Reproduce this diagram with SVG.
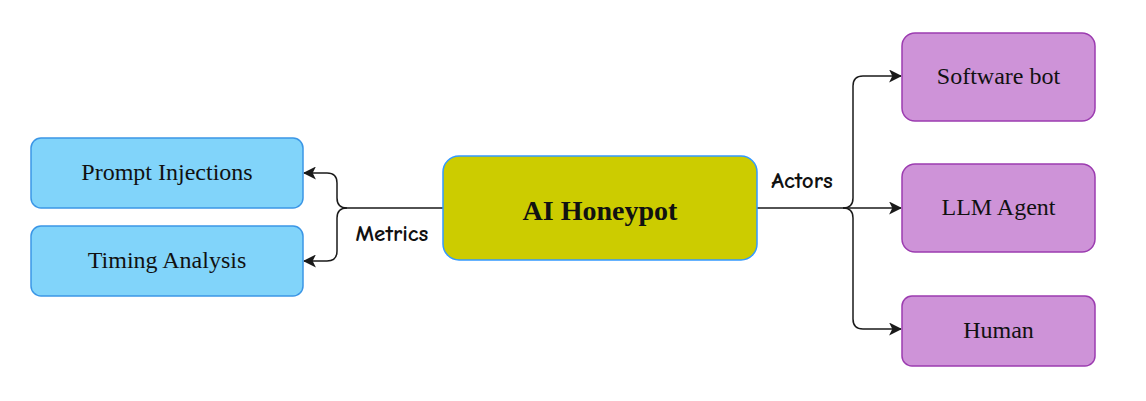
<svg xmlns="http://www.w3.org/2000/svg" width="1146" height="401" viewBox="0 0 1146 401">
<style>
.blue{fill:#81D4FA;stroke:#3B96E6;stroke-width:1.5}
.main{fill:#CCCC00;stroke:#3399FF;stroke-width:1.5}
.purple{fill:#CE93D8;stroke:#9C3CB0;stroke-width:1.5}
.t{font-family:"Liberation Serif","Times New Roman",serif;font-size:24px;fill:#111;text-anchor:middle;dominant-baseline:central}
.tb{font-family:"Liberation Serif","Times New Roman",serif;font-size:28px;font-weight:bold;fill:#111;text-anchor:middle;dominant-baseline:central}
.lbl{font-family:"Comic Sans MS","Comic Neue",cursive;font-size:23px;font-weight:bold;fill:#111;text-anchor:middle;dominant-baseline:central}
.e{fill:none;stroke:#1a1a1a;stroke-width:1.5}
</style>
<defs>
<marker id="arr" viewBox="0 0 12 12" refX="11" refY="6" markerWidth="13" markerHeight="13" markerUnits="userSpaceOnUse" orient="auto">
<path d="M0,0 L12,6 L0,12 L3,6 Z" fill="#1a1a1a"/>
</marker>
</defs>
<g id="connectors">
<path class="e" d="M443,208 H347 Q337,208 337,198 V183 Q337,173 327,173 H304" marker-end="url(#arr)"/>
<path class="e" d="M347,208 Q337,208 337,218 V251 Q337,261 327,261 H304" marker-end="url(#arr)"/>
<path class="e" d="M757,208 H901" marker-end="url(#arr)"/>
<path class="e" d="M843,208 Q853,208 853,198 V86 Q853,76 863,76 H901" marker-end="url(#arr)"/>
<path class="e" d="M843,208 Q853,208 853,218 V319 Q853,329 863,329 H901" marker-end="url(#arr)"/>
<text class="lbl" x="392" y="233">Metrics</text>
<text class="lbl" x="802" y="180">Actors</text>
</g>
<g id="prompt-injections">
<rect class="blue" x="31" y="138" width="272" height="70" rx="10"/>
<text class="t" x="167" y="172">Prompt Injections</text>
</g>
<g id="timing-analysis">
<rect class="blue" x="31" y="226" width="272" height="70" rx="10"/>
<text class="t" x="167" y="260">Timing Analysis</text>
</g>
<g id="ai-honeypot">
<rect class="main" x="443" y="156" width="314" height="104" rx="16"/>
<text class="tb" x="600" y="210">AI Honeypot</text>
</g>
<g id="software-bot">
<rect class="purple" x="902" y="33" width="193" height="88" rx="13"/>
<text class="t" x="998.500" y="76">Software bot</text>
</g>
<g id="llm-agent">
<rect class="purple" x="902" y="164" width="193" height="88" rx="13"/>
<text class="t" x="998.500" y="207">LLM Agent</text>
</g>
<g id="human">
<rect class="purple" x="902" y="296" width="193" height="70" rx="10"/>
<text class="t" x="998.500" y="330">Human</text>
</g>
</svg>
